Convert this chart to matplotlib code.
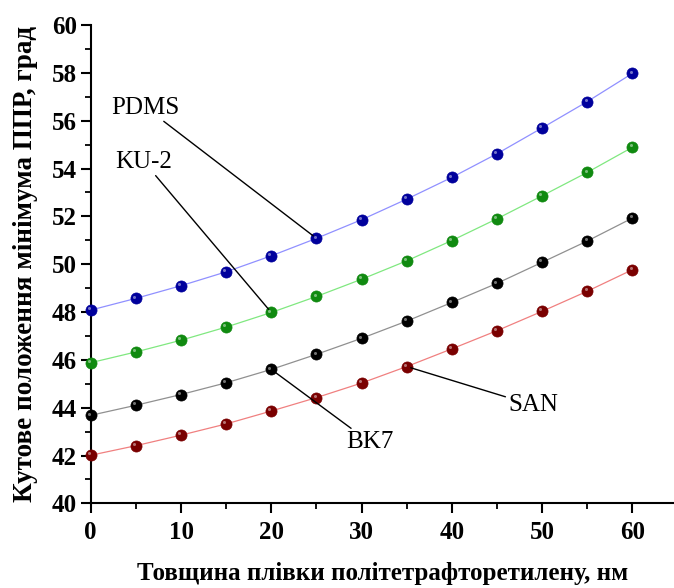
import matplotlib
matplotlib.use("Agg")
import matplotlib.pyplot as plt
from matplotlib.ticker import MultipleLocator
import matplotlib.transforms as mtransforms

plt.rcParams['font.family'] = ['Liberation Serif', 'DejaVu Serif']

thickness = [0, 5, 10, 15, 20, 25, 30, 35, 40, 45, 50, 55, 60]
pdms = [48.08, 48.57, 49.10, 49.68, 50.35, 51.08, 51.86, 52.72, 53.63, 54.62, 55.70, 56.80, 57.98]
ku2 = [45.88, 46.33, 46.82, 47.37, 47.98, 48.65, 49.37, 50.14, 50.99, 51.90, 52.86, 53.84, 54.89]
bk7 = [43.68, 44.10, 44.55, 45.04, 45.60, 46.23, 46.90, 47.62, 48.40, 49.20, 50.08, 50.97, 51.93]
san = [42.01, 42.41, 42.85, 43.32, 43.86, 44.42, 45.03, 45.72, 46.46, 47.22, 48.03, 48.87, 49.77]

series = [
    ("PDMS", pdms, "#00009c", "#9090ff"),
    ("KU-2", ku2, "#108a10", "#80e880"),
    ("BK7", bk7, "#000000", "#909090"),
    ("SAN", san, "#7a0000", "#f08080"),
]

fig = plt.figure(figsize=(6.74, 5.88), dpi=100)
ax = fig.add_axes([0.1346, 0.144, 0.8654, 0.8134])

hl = mtransforms.offset_copy(ax.transData, fig=fig, x=-1.3, y=1.3, units='points')
for name, vals, mc, lc in series:
    ax.plot(thickness, vals, '-', color=lc, lw=0.9, zorder=2)
    ax.plot(thickness, vals, 'o', color=mc, ms=8, mec=mc, mew=0.5, zorder=3, clip_on=False)
    ax.plot(thickness, vals, 'o', color='white', alpha=0.45, ms=2.2, mew=0, zorder=4,
            transform=hl, clip_on=False)

ax.set_xlim(0, 64.6)
ax.set_ylim(40, 60)
ax.xaxis.set_major_locator(MultipleLocator(10))
ax.xaxis.set_minor_locator(MultipleLocator(5))
ax.yaxis.set_major_locator(MultipleLocator(2))
ax.yaxis.set_minor_locator(MultipleLocator(1))
ax.spines['top'].set_visible(False)
ax.spines['right'].set_visible(False)
for s in ('left', 'bottom'):
    ax.spines[s].set_linewidth(1.5)
ax.tick_params(which='major', direction='out', length=7, width=1.5, labelsize=18, pad=3)
ax.tick_params(which='minor', direction='out', length=4.3, width=1.3)
ax.tick_params(axis='x', which='major', pad=6)
for lab in ax.get_xticklabels() + ax.get_yticklabels():
    lab.set_fontweight('bold')

ax.set_xlabel("Товщина плівки політетрафторетилену, нм", fontsize=18, fontweight='bold', labelpad=13)
ax.set_ylabel("Кутове положення мінімума ППР, град", fontsize=19.5, fontweight='bold', labelpad=10)

ann = dict(arrowprops=dict(arrowstyle='-', color='black', lw=1.0, shrinkA=0, shrinkB=3),
           fontsize=18, ha='center', va='center')
ax.annotate("PDMS", xy=(25, pdms[5]), xytext=(6.1, 56.55), **ann)
ax.annotate("KU-2", xy=(20, ku2[4]), xytext=(5.9, 54.28), **ann)
ax.annotate("BK7", xy=(20, bk7[4]), xytext=(30.9, 42.56), **ann)
ax.annotate("SAN", xy=(35, san[7]), xytext=(49.0, 44.1), **ann)

fig.savefig("out.png", dpi=100)
